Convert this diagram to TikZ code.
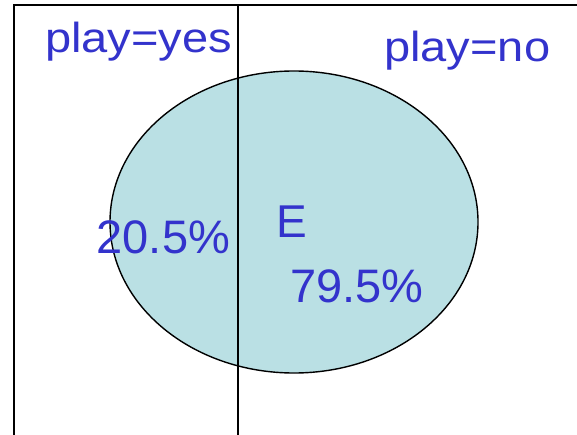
\documentclass[tikz,border=0pt]{standalone}
\usepackage{fontspec}
\usepackage{graphicx}
\setmainfont{Liberation Sans}
\definecolor{labelblue}{RGB}{51,51,204}
\definecolor{eventfill}{RGB}{186,224,228}
\tikzset{
    label text/.style={text=labelblue, inner sep=0pt, anchor=base west},
    box line/.style={line width=1.8pt, black}
}
\begin{document}
\begin{tikzpicture}[x=1pt, y=-1pt]

    \def\lx{14}
    \def\mx{238}
    \def\ty{5}

    % ── Bounding box ─────────────────────────────────────────────────────────
    \useasboundingbox (0,0) rectangle (577,435);

    % ── Event E: ellipse FIRST (behind the lines) ────────────────────────────
    \filldraw[fill=eventfill, draw=black, line width=1.4pt]
        (294,222) ellipse [x radius=184, y radius=151];

    % ── Sample space frame and split ─────────────────────────────────────────
    \coordinate (topleft)  at (\lx,\ty);
    \coordinate (topright) at (577,\ty);
    \coordinate (botleft)  at (\lx,435);
    \coordinate (topmid)   at (\mx,\ty);
    \coordinate (botmid)   at (\mx,435);
    \draw[box line] (botleft) -- (topleft) -- (topright);
    \draw[box line] (topmid) -- (botmid);

    % ── Labels ───────────────────────────────────────────────────────────────
    \node[label text, font=\fontsize{42}{48}\selectfont] (yes) at (45,53)
        {\scalebox{1.12}[1]{play=yes}};
    \node[label text, font=\fontsize{42}{48}\selectfont] (no) at (384,62)
        {\scalebox{1.12}[1]{play=no}};
    \node[label text, font=\fontsize{46}{52}\selectfont] (ev) at (276,238) {E};

    % Percentages
    \node[label text, font=\fontsize{47}{52}\selectfont] (pyes) at (96.5,254) {20.5\%};
    \node[label text, font=\fontsize{47}{52}\selectfont] (pno) at (290,302) {79.5\%};

\end{tikzpicture}
\end{document}
